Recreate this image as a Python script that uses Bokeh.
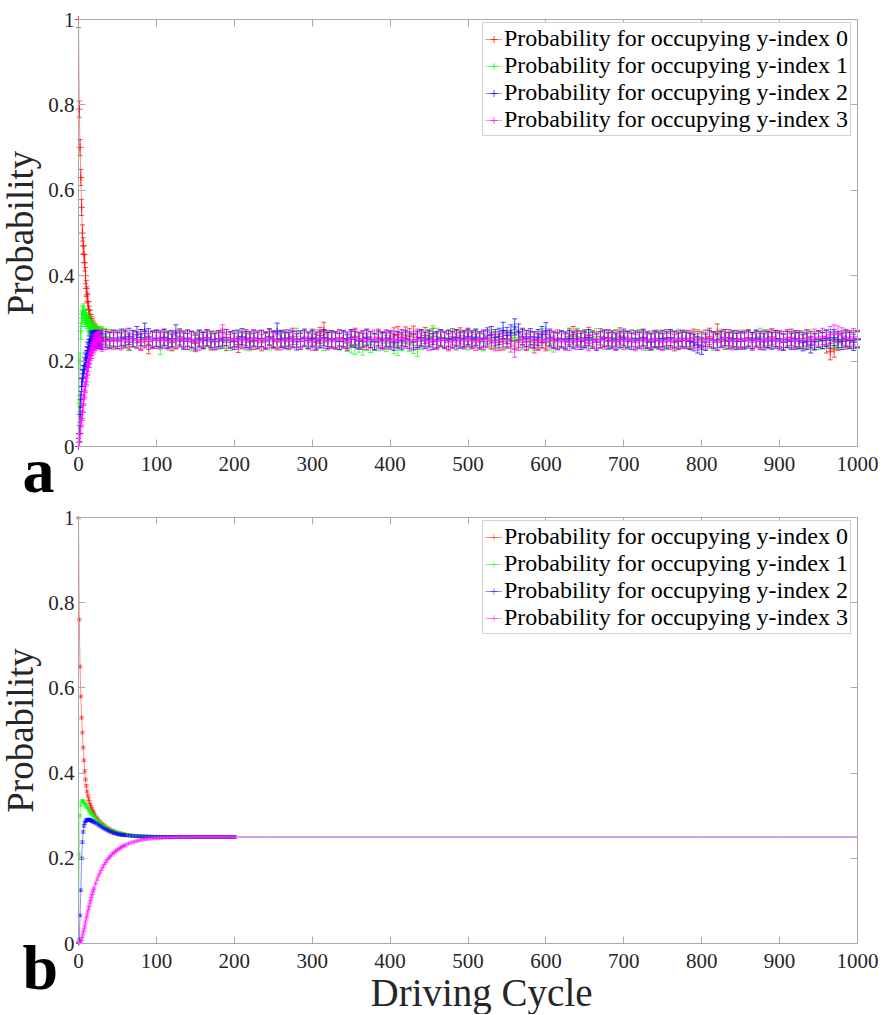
import numpy as np
import pandas as pd
from bokeh.plotting import figure
from bokeh.models import (ColumnDataSource, FixedTicker, Label, Legend, LegendItem,
                          LinearAxis, Range1d)
from bokeh.layouts import column
from bokeh.embed import file_html
from bokeh.resources import INLINE

# ---------------- data ----------------
series_labels = [
    "Probability for occupying y-index 0",
    "Probability for occupying y-index 1",
    "Probability for occupying y-index 2",
    "Probability for occupying y-index 3",
]
x_ticks = [0, 100, 200, 300, 400, 500, 600, 700, 800, 900, 1000]
y_ticks = [0, 0.2, 0.4, 0.6, 0.8, 1]
y_tick_labels = ["0", "0.2", "0.4", "0.6", "0.8", "1"]
x_axis_title = "Driving Cycle"
y_axis_title = "Probability"
panel_letters = ["a", "b"]

# Panel a: cycles 0..29 every cycle, then every 5th cycle
cycles_a = list(range(0, 30)) + list(range(30, 1001, 5))

p0_a_start = [1.000, 0.790, 0.700, 0.630, 0.560, 0.500, 0.470, 0.450, 0.430, 0.400,
              0.370, 0.355, 0.340, 0.320, 0.310, 0.300, 0.290, 0.285, 0.280, 0.275,
              0.270, 0.268, 0.265, 0.262, 0.260, 0.258, 0.256, 0.255, 0.253, 0.255]
p1_a_start = [0.000, 0.100, 0.200, 0.270, 0.300, 0.310, 0.315, 0.310, 0.305, 0.300,
              0.300, 0.295, 0.290, 0.287, 0.285, 0.280, 0.278, 0.275, 0.272, 0.270,
              0.268, 0.266, 0.264, 0.262, 0.262, 0.260, 0.258, 0.260, 0.257, 0.258]
p2_a_start = [0.000, 0.030, 0.075, 0.110, 0.140, 0.160, 0.170, 0.180, 0.190, 0.200,
              0.205, 0.215, 0.225, 0.232, 0.240, 0.245, 0.250, 0.252, 0.248, 0.253,
              0.250, 0.252, 0.249, 0.251, 0.253, 0.248, 0.251, 0.250, 0.253, 0.249]
p3_a_start = [0.000, 0.010, 0.030, 0.050, 0.065, 0.080, 0.100, 0.115, 0.130, 0.145,
              0.160, 0.170, 0.185, 0.195, 0.205, 0.212, 0.220, 0.225, 0.232, 0.236,
              0.240, 0.243, 0.245, 0.247, 0.248, 0.250, 0.249, 0.252, 0.250, 0.251]

p0_a_steady = [
    0.258, 0.255, 0.251, 0.247, 0.253, 0.249, 0.256, 0.244, 0.252, 0.250, 0.246, 0.254, 0.236, 0.249, 0.253,
    0.247, 0.255, 0.251, 0.243, 0.249, 0.257, 0.252, 0.246, 0.250, 0.241, 0.254, 0.248, 0.253, 0.245, 0.251,
    0.249, 0.256, 0.244, 0.250, 0.253, 0.239, 0.248, 0.255, 0.251, 0.246, 0.252, 0.243, 0.250, 0.257, 0.248,
    0.245, 0.251, 0.254, 0.248, 0.258, 0.252, 0.246, 0.253, 0.249, 0.256, 0.244, 0.260, 0.272, 0.253, 0.249,
    0.247, 0.255, 0.250, 0.243, 0.252, 0.258, 0.249, 0.246, 0.254, 0.251, 0.245, 0.256, 0.250, 0.247, 0.253,
    0.259, 0.262, 0.255, 0.261, 0.257, 0.263, 0.256, 0.252, 0.260, 0.254, 0.258, 0.249, 0.255, 0.251, 0.246,
    0.257, 0.253, 0.259, 0.250, 0.255, 0.248, 0.252, 0.246, 0.251, 0.254, 0.247, 0.250, 0.244, 0.252, 0.249,
    0.253, 0.247, 0.251, 0.255, 0.244, 0.250, 0.238, 0.246, 0.249, 0.243, 0.252, 0.248, 0.254, 0.250, 0.245,
    0.258, 0.262, 0.256, 0.251, 0.255, 0.260, 0.253, 0.249, 0.257, 0.252, 0.255, 0.248, 0.254, 0.259, 0.251,
    0.250, 0.254, 0.247, 0.252, 0.256, 0.249, 0.245, 0.253, 0.251, 0.246, 0.255, 0.250, 0.243, 0.252, 0.248,
    0.253, 0.249, 0.256, 0.251, 0.247, 0.254, 0.258, 0.250, 0.268, 0.252, 0.246, 0.255, 0.249, 0.253, 0.247,
    0.251, 0.255, 0.248, 0.252, 0.246, 0.254, 0.250, 0.257, 0.249, 0.253, 0.245, 0.251, 0.256, 0.248, 0.252,
    0.249, 0.254, 0.250, 0.246, 0.252, 0.248, 0.238, 0.222, 0.228, 0.244, 0.251, 0.247, 0.253, 0.249, 0.252,
]
p1_a_steady = [
    0.262, 0.258, 0.255, 0.251, 0.247, 0.253, 0.249, 0.244, 0.252, 0.248, 0.255, 0.250, 0.246, 0.253, 0.249,
    0.234, 0.248, 0.252, 0.245, 0.251, 0.256, 0.247, 0.253, 0.243, 0.250, 0.254, 0.248, 0.252, 0.246, 0.251,
    0.247, 0.253, 0.249, 0.244, 0.251, 0.255, 0.248, 0.250, 0.243, 0.252, 0.247, 0.254, 0.249, 0.245, 0.251,
    0.248, 0.254, 0.250, 0.245, 0.252, 0.258, 0.249, 0.253, 0.246, 0.251, 0.255, 0.248, 0.244, 0.250, 0.253,
    0.249, 0.245, 0.251, 0.242, 0.238, 0.235, 0.240, 0.233, 0.244, 0.239, 0.247, 0.243, 0.249, 0.241, 0.246,
    0.236, 0.232, 0.244, 0.248, 0.241, 0.237, 0.230, 0.246, 0.252, 0.256, 0.264, 0.258, 0.253, 0.249, 0.255,
    0.251, 0.247, 0.254, 0.249, 0.245, 0.252, 0.256, 0.248, 0.243, 0.250, 0.254, 0.247, 0.251, 0.246, 0.253,
    0.249, 0.255, 0.250, 0.246, 0.252, 0.248, 0.244, 0.251, 0.257, 0.249, 0.245, 0.240, 0.248, 0.253, 0.250,
    0.256, 0.252, 0.258, 0.250, 0.254, 0.247, 0.252, 0.257, 0.249, 0.253, 0.246, 0.251, 0.255, 0.248, 0.252,
    0.247, 0.253, 0.249, 0.255, 0.250, 0.244, 0.252, 0.248, 0.254, 0.251, 0.246, 0.253, 0.249, 0.256, 0.250,
    0.252, 0.246, 0.251, 0.255, 0.248, 0.253, 0.249, 0.244, 0.251, 0.256, 0.250, 0.247, 0.253, 0.248, 0.254,
    0.249, 0.253, 0.247, 0.252, 0.258, 0.250, 0.255, 0.248, 0.252, 0.246, 0.251, 0.254, 0.249, 0.253, 0.247,
    0.252, 0.248, 0.254, 0.250, 0.246, 0.253, 0.249, 0.255, 0.251, 0.247, 0.252, 0.256, 0.249, 0.253, 0.250,
]
p2_a_steady = [
    0.246, 0.251, 0.248, 0.254, 0.249, 0.256, 0.252, 0.258, 0.253, 0.262, 0.255, 0.270, 0.257, 0.250, 0.254,
    0.251, 0.256, 0.249, 0.253, 0.266, 0.252, 0.247, 0.254, 0.250, 0.245, 0.252, 0.248, 0.255, 0.251, 0.246,
    0.253, 0.249, 0.255, 0.250, 0.246, 0.252, 0.257, 0.251, 0.247, 0.254, 0.249, 0.253, 0.248, 0.256, 0.251,
    0.270, 0.252, 0.248, 0.254, 0.250, 0.245, 0.252, 0.256, 0.249, 0.253, 0.247, 0.251, 0.255, 0.248, 0.252,
    0.250, 0.246, 0.253, 0.249, 0.255, 0.251, 0.247, 0.252, 0.256, 0.250, 0.245, 0.252, 0.248, 0.254, 0.250,
    0.244, 0.250, 0.247, 0.253, 0.249, 0.245, 0.251, 0.255, 0.248, 0.252, 0.246, 0.250, 0.254, 0.249, 0.253,
    0.250, 0.255, 0.249, 0.253, 0.258, 0.252, 0.256, 0.250, 0.254, 0.259, 0.262, 0.255, 0.258, 0.272, 0.260,
    0.266, 0.280, 0.268, 0.258, 0.253, 0.257, 0.250, 0.255, 0.262, 0.271, 0.256, 0.251, 0.247, 0.252, 0.249,
    0.253, 0.248, 0.252, 0.246, 0.251, 0.255, 0.249, 0.244, 0.250, 0.254, 0.248, 0.252, 0.246, 0.251, 0.256,
    0.250, 0.246, 0.252, 0.248, 0.254, 0.249, 0.245, 0.251, 0.247, 0.253, 0.249, 0.255, 0.250, 0.246, 0.252,
    0.249, 0.246, 0.243, 0.238, 0.235, 0.244, 0.253, 0.249, 0.245, 0.251, 0.255, 0.248, 0.252, 0.246, 0.250,
    0.247, 0.252, 0.248, 0.254, 0.250, 0.245, 0.251, 0.247, 0.253, 0.249, 0.244, 0.250, 0.246, 0.252, 0.248,
    0.243, 0.246, 0.238, 0.245, 0.251, 0.248, 0.253, 0.249, 0.255, 0.250, 0.246, 0.252, 0.248, 0.244, 0.250,
]
p3_a_steady = [
    0.242, 0.246, 0.249, 0.252, 0.248, 0.245, 0.251, 0.247, 0.253, 0.249, 0.244, 0.250, 0.246, 0.252, 0.248,
    0.253, 0.249, 0.245, 0.251, 0.247, 0.254, 0.250, 0.246, 0.252, 0.248, 0.244, 0.251, 0.255, 0.249, 0.245,
    0.252, 0.266, 0.255, 0.249, 0.253, 0.247, 0.251, 0.245, 0.250, 0.254, 0.248, 0.252, 0.246, 0.250, 0.253,
    0.249, 0.245, 0.251, 0.247, 0.253, 0.250, 0.246, 0.252, 0.248, 0.244, 0.250, 0.254, 0.249, 0.245, 0.251,
    0.247, 0.253, 0.249, 0.245, 0.251, 0.255, 0.248, 0.252, 0.246, 0.250, 0.254, 0.249, 0.245, 0.251, 0.247,
    0.252, 0.248, 0.254, 0.250, 0.245, 0.251, 0.247, 0.253, 0.249, 0.244, 0.250, 0.246, 0.252, 0.248, 0.243,
    0.249, 0.245, 0.251, 0.247, 0.252, 0.248, 0.244, 0.250, 0.246, 0.252, 0.248, 0.243, 0.249, 0.245, 0.251,
    0.240, 0.228, 0.244, 0.250, 0.246, 0.252, 0.248, 0.244, 0.251, 0.247, 0.253, 0.249, 0.245, 0.250, 0.246,
    0.244, 0.250, 0.246, 0.252, 0.248, 0.243, 0.249, 0.245, 0.251, 0.247, 0.253, 0.248, 0.244, 0.250, 0.246,
    0.252, 0.247, 0.243, 0.249, 0.245, 0.251, 0.247, 0.253, 0.248, 0.244, 0.250, 0.246, 0.252, 0.248, 0.254,
    0.248, 0.253, 0.249, 0.245, 0.251, 0.247, 0.252, 0.248, 0.244, 0.250, 0.255, 0.249, 0.245, 0.251, 0.247,
    0.253, 0.249, 0.244, 0.250, 0.246, 0.252, 0.248, 0.254, 0.249, 0.245, 0.251, 0.255, 0.250, 0.246, 0.252,
    0.248, 0.254, 0.250, 0.256, 0.252, 0.258, 0.255, 0.262, 0.266, 0.263, 0.259, 0.255, 0.251, 0.257, 0.253,
]
err_a = 0.019

# Panel b
cycles_b = (list(range(0, 21)) + list(range(22, 61, 2)) + list(range(64, 201, 4))
            + [240, 300, 400, 500, 600, 700, 800, 900, 1000])

p0_b = [1.000, 0.760, 0.650, 0.580, 0.530, 0.495, 0.460, 0.430, 0.405, 0.385, 0.370,
        0.357, 0.347, 0.339, 0.332, 0.326, 0.321, 0.316, 0.312, 0.308, 0.305,
        0.299, 0.294, 0.289, 0.285, 0.281, 0.278, 0.275, 0.272, 0.270, 0.268,
        0.266, 0.264, 0.263, 0.261, 0.260, 0.259, 0.258, 0.257, 0.256, 0.2555,
        0.2545, 0.2535, 0.2528, 0.2522, 0.2517, 0.2513, 0.2510, 0.2508, 0.2506, 0.2505,
        0.2504, 0.2503, 0.2502, 0.2502, 0.2501, 0.2500, 0.2500, 0.2500, 0.2500, 0.2500,
        0.2500, 0.2500, 0.2500, 0.2500, 0.2500, 0.2500, 0.2500, 0.2500, 0.2500, 0.2500,
        0.2500, 0.2500, 0.2500, 0.2500, 0.2500,
        0.2500, 0.2500, 0.2500, 0.2500, 0.2500, 0.2500, 0.2500, 0.2500, 0.2500]
p1_b = [0.000, 0.210, 0.300, 0.325, 0.333, 0.335, 0.334, 0.332, 0.329, 0.326, 0.323,
        0.320, 0.317, 0.314, 0.311, 0.309, 0.306, 0.304, 0.302, 0.300, 0.298,
        0.294, 0.290, 0.286, 0.283, 0.280, 0.277, 0.274, 0.272, 0.269, 0.267,
        0.265, 0.264, 0.262, 0.261, 0.260, 0.259, 0.258, 0.257, 0.256, 0.2555,
        0.2545, 0.2535, 0.2528, 0.2522, 0.2517, 0.2513, 0.2510, 0.2508, 0.2506, 0.2505,
        0.2504, 0.2503, 0.2502, 0.2502, 0.2501, 0.2500, 0.2500, 0.2500, 0.2500, 0.2500,
        0.2500, 0.2500, 0.2500, 0.2500, 0.2500, 0.2500, 0.2500, 0.2500, 0.2500, 0.2500,
        0.2500, 0.2500, 0.2500, 0.2500, 0.2500,
        0.2500, 0.2500, 0.2500, 0.2500, 0.2500, 0.2500, 0.2500, 0.2500, 0.2500]
p2_b = [0.000, 0.010, 0.066, 0.125, 0.200, 0.238, 0.262, 0.276, 0.283, 0.287, 0.289,
        0.290, 0.291, 0.291, 0.290, 0.290, 0.289, 0.288, 0.287, 0.286, 0.285,
        0.283, 0.281, 0.278, 0.276, 0.273, 0.271, 0.269, 0.267, 0.265, 0.263,
        0.262, 0.260, 0.259, 0.258, 0.257, 0.256, 0.2555, 0.255, 0.2545, 0.254,
        0.2533, 0.2526, 0.2520, 0.2516, 0.2512, 0.2510, 0.2508, 0.2506, 0.2505, 0.2504,
        0.2503, 0.2502, 0.2502, 0.2501, 0.2501, 0.2500, 0.2500, 0.2500, 0.2500, 0.2500,
        0.2500, 0.2500, 0.2500, 0.2500, 0.2500, 0.2500, 0.2500, 0.2500, 0.2500, 0.2500,
        0.2500, 0.2500, 0.2500, 0.2500, 0.2500,
        0.2500, 0.2500, 0.2500, 0.2500, 0.2500, 0.2500, 0.2500, 0.2500, 0.2500]
p3_b = [0.000, 0.000, 0.002, 0.005, 0.010, 0.017, 0.025, 0.032, 0.040, 0.049, 0.058,
        0.066, 0.075, 0.083, 0.090, 0.098, 0.105, 0.112, 0.118, 0.124, 0.130,
        0.141, 0.151, 0.160, 0.168, 0.175, 0.182, 0.188, 0.194, 0.199, 0.203,
        0.207, 0.211, 0.214, 0.217, 0.220, 0.222, 0.225, 0.227, 0.229, 0.231,
        0.234, 0.237, 0.239, 0.241, 0.243, 0.2442, 0.2453, 0.2462, 0.2470, 0.2476,
        0.2481, 0.2485, 0.2488, 0.2490, 0.2492, 0.2494, 0.2495, 0.2496, 0.2497, 0.2497,
        0.2498, 0.2498, 0.2499, 0.2499, 0.2499, 0.2499, 0.2500, 0.2500, 0.2500, 0.2500,
        0.2500, 0.2500, 0.2500, 0.2500, 0.2500,
        0.2500, 0.2500, 0.2500, 0.2500, 0.2500, 0.2500, 0.2500, 0.2500, 0.2500]
err_b = 0.003

# ---------------- style ----------------
COLORS = ["#ff0000", "#00ff00", "#0000ff", "#ff00ff"]
LINE_TINTS = ["#ff8c8c", "#8cff8c", "#8c8cff", "#ff8cff"]
FRAME_GRAY = "#aaaaaa"
TEXT = "#262626"
FONT = "Liberation Serif"
FIG_W = 887
LEGEND_H = 113


def style_axis(ax, show_labels, standoff):
    ax.axis_line_color = FRAME_GRAY
    ax.major_tick_line_color = FRAME_GRAY
    ax.minor_tick_line_color = None
    ax.major_tick_in = 7
    ax.major_tick_out = 0
    ax.major_label_text_font = FONT
    ax.major_label_text_font_size = "21px"
    ax.major_label_text_color = TEXT if show_labels else None
    ax.major_label_standoff = standoff


def make_panel(H, box, x, ys, err, letter, letter_base, marker_size, marker_alpha,
               marker_xmax=None, xlabel=None, xlabel_base=None):
    left, top, right, bottom = box          # pixel box of the axes inside the canvas
    sx = (right - left) / 1000.0
    sy = (bottom - top) / 1.0
    p = figure(width=FIG_W, height=H,
               x_range=Range1d(-left / sx, 1000 + (FIG_W - right) / sx),
               y_range=Range1d(-(H - bottom) / sy, 1 + top / sy),
               output_backend="svg", toolbar_location=None, min_border=0)
    p.grid.visible = False
    p.outline_line_color = None
    p.border_fill_color = "white"

    xa = p.xaxis[0]
    ya = p.yaxis[0]
    xa.ticker = FixedTicker(ticks=x_ticks)
    ya.ticker = FixedTicker(ticks=y_ticks)
    ya.major_label_overrides = {t: l for t, l in zip(y_ticks, y_tick_labels)}
    xa.fixed_location = 0
    ya.fixed_location = 0
    xa.bounds = (0, 1000)
    ya.bounds = (0, 1)
    style_axis(xa, True, 10)
    style_axis(ya, True, 4)

    top_ax = LinearAxis(ticker=FixedTicker(ticks=x_ticks), fixed_location=1, bounds=(0, 1000))
    right_ax = LinearAxis(ticker=FixedTicker(ticks=y_ticks), fixed_location=1000, bounds=(0, 1))
    for ax in (top_ax, right_ax):
        style_axis(ax, False, 0)
    p.add_layout(top_ax, "above")
    p.add_layout(right_ax, "right")

    items = []
    for y, color, tint, label in zip(ys, COLORS, LINE_TINTS, series_labels):
        df = pd.DataFrame({"x": x, "y": y})
        df["lo"] = (df["y"] - err).clip(0, 1)
        df["hi"] = (df["y"] + err).clip(0, 1)
        line = p.line("x", "y", source=ColumnDataSource(df), line_color=tint, line_width=1)
        mdf = df if marker_xmax is None else df[df["x"] <= marker_xmax]
        msrc = ColumnDataSource(mdf)
        p.segment("x", "lo", "x", "hi", source=msrc, line_color=color, line_alpha=marker_alpha)
        p.scatter("x", "lo", source=msrc, marker="dash", size=5, line_color=color,
                  line_alpha=marker_alpha)
        p.scatter("x", "hi", source=msrc, marker="dash", size=5, line_color=color,
                  line_alpha=marker_alpha)
        mk = p.scatter("x", "y", source=msrc, marker="cross", size=marker_size,
                       line_color=color, line_alpha=marker_alpha)
        items.append(LegendItem(label=label, renderers=[line, mk]))

    legend = Legend(items=items, location=(482, H - (top + 4) - LEGEND_H),
                    padding=2, spacing=0, margin=0,
                    label_text_font=FONT, label_text_font_size="24px", label_text_color="black",
                    label_standoff=2, glyph_width=17, glyph_height=22, label_height=22,
                    border_line_color=FRAME_GRAY, background_fill_color="white",
                    background_fill_alpha=1.0)
    p.add_layout(legend)

    p.add_layout(Label(x=20, y=H - (top + bottom) / 2, x_units="screen", y_units="screen",
                       text=y_axis_title, angle=np.pi / 2, text_align="center",
                       text_baseline="alphabetic", text_font=FONT, text_font_size="37px",
                       text_color=TEXT))
    p.add_layout(Label(x=22, y=H - letter_base, x_units="screen", y_units="screen", text=letter,
                       text_font=FONT, text_font_style="bold", text_font_size="64px",
                       text_color="black", text_baseline="alphabetic", text_align="left"))
    if xlabel:
        p.add_layout(Label(x=481, y=H - xlabel_base, x_units="screen", y_units="screen",
                           text=xlabel, text_align="center", text_baseline="alphabetic",
                           text_font=FONT, text_font_size="39px", text_color=TEXT))
    return p


pa = make_panel(506, (78, 19, 857, 446), cycles_a,
                [p0_a_start + p0_a_steady, p1_a_start + p1_a_steady,
                 p2_a_start + p2_a_steady, p3_a_start + p3_a_steady],
                err_a, panel_letters[0], 470, 7, 0.7)
pb = make_panel(508, (78, 11, 857, 437), cycles_b, [p0_b, p1_b, p2_b, p3_b], err_b,
                panel_letters[1], 461, 4, 0.45, marker_xmax=220, xlabel=x_axis_title,
                xlabel_base=486)

layout = column(pa, pb, spacing=0)
open("out.html", "w").write(file_html(layout, INLINE))
